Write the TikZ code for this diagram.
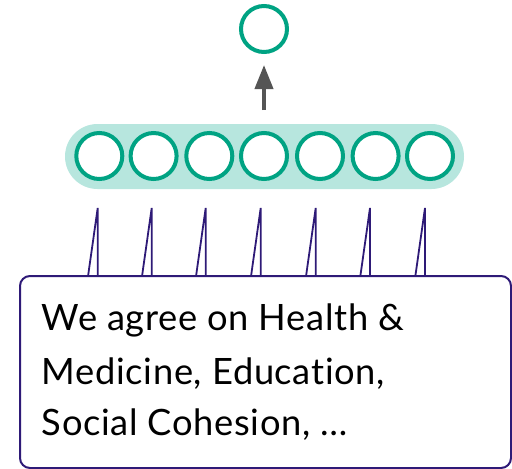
\documentclass[tikz,border=0pt]{standalone}
\usepackage{fontspec}
\setmainfont{Lato}[Ligatures=NoCommon, LetterSpace=1.8]
\usetikzlibrary{arrows.meta}
\definecolor{teal}{HTML}{00A383}
\definecolor{pill}{HTML}{B7E6DE}
\definecolor{purp}{HTML}{2E1A77}
\definecolor{arrowgray}{HTML}{555555}
\tikzset{
  unit/.style={circle, draw=teal, line width=4pt, fill=white, minimum size=46pt, inner sep=0pt},
  conn/.style={draw=purp, line width=1.8pt, line join=miter},
  txt/.style={anchor=base west, inner sep=0pt, font=\fontsize{36.3}{44}\selectfont, text=black}
}
\begin{document}
\begin{tikzpicture}[x=1pt,y=-1pt]
\useasboundingbox (0,0) rectangle (512,469);
% pill background
\fill[pill, rounded corners=32.5pt] (65,124) rectangle (464,189);
% units
\foreach \i/\x in {1/99.3,2/153.6,3/209.3,4/264,5/320,6/375.6,7/430}{
  \node[unit] (u\i) at (\x,156) {};
}
\node[unit] (out) at (264,29) {};
\coordinate (as) at (264,110);
\draw[arrowgray, line width=4pt, shorten >=11pt, -{Triangle[length=24pt,width=18pt]}] (as) -- (out.south);
% text box
\node[draw=purp, line width=2pt, rounded corners=10pt, minimum width=491pt, minimum height=192pt, anchor=north west, inner sep=0pt] (box) at (19,275) {};
% connectors
\foreach \i/\x in {1/97.7,2/151.7,3/205.7,4/260.7,5/315.7,6/370,7/425}{
  \coordinate (tip\i) at (\x,208);
  \coordinate (bv\i) at (\x,275);
  \coordinate (bs\i) at (\x-9.5,275);
  \draw[conn] (bs\i) -- (tip\i) -- (bv\i);
}
\node[txt] (t1) at (41.7,330.7) {We agree on Health \&};
\node[txt] (t2) at (41.7,384) {Medicine, Education,};
\node[txt] (t3) at (41.7,435.5) {Social Cohesion, \dots};
\end{tikzpicture}
\end{document}
